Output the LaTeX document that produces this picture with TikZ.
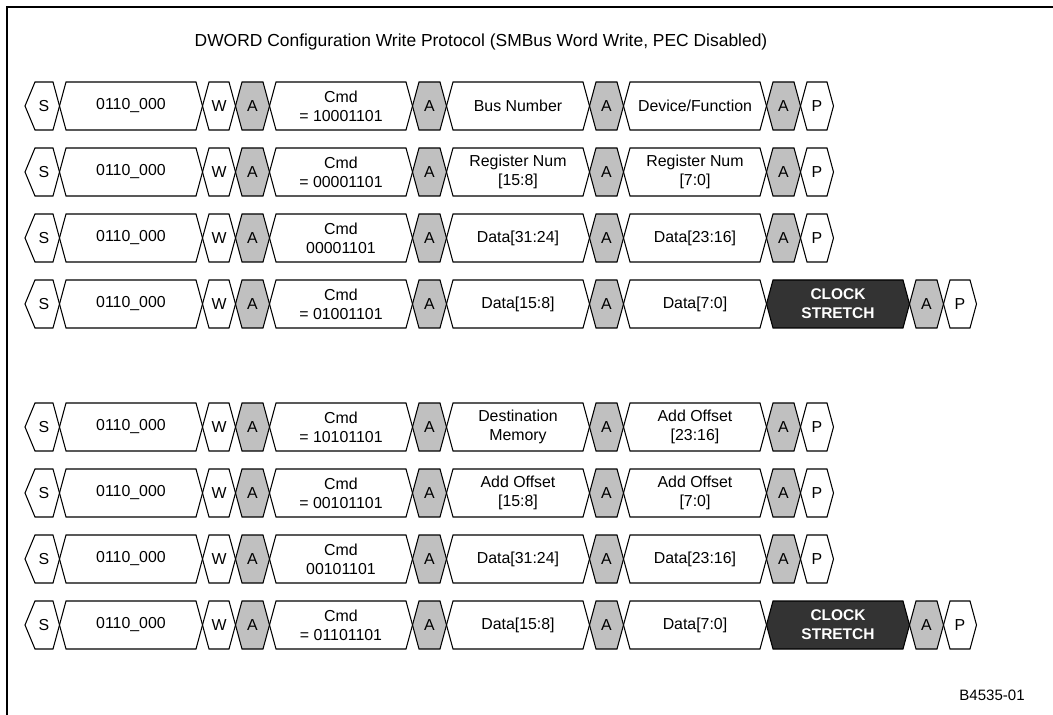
\documentclass[tikz,border=0pt]{standalone}
\usepackage{fontspec}
\setmainfont{Liberation Sans}
\usepackage{xcolor}
\usepackage{tikz}
\definecolor{ackgray}{RGB}{192,192,192}
\definecolor{stretchgray}{RGB}{51,51,51}
\pgfdeclarelayer{background}
\pgfsetlayers{background,main}

\tikzset{
    field/.style={fill=none},
    ack/.style={fill=ackgray},
    stretch/.style={fill=stretchgray},
    outline/.style={draw=black, line width=0.75pt, line join=miter},
    field text/.style={font=\fontsize{11.3}{13.5}\selectfont, align=center, inner sep=0pt},
    ack text/.style={field text},
    stretch text/.style={field text, text=white, font=\fontsize{11}{13.5}\selectfont\bfseries},
}

% one bus field: #1 name, #2 kind, #3 width, #4 text
\newcommand{\seg}[4]{%
    \begin{pgfonlayer}{background}
        \fill[#2] (\segx-\tipl,\rowy) -- (\segx,\rowy-24) -- (\segx+#3,\rowy-24)
            -- (\segx+#3+6.5,\rowy) -- (\segx+#3,\rowy+24) -- (\segx,\rowy+24) -- cycle;
    \end{pgfonlayer}
    \draw[outline] (\segx-\tipl,\rowy) -- (\segx,\rowy-24) -- (\segx+#3,\rowy-24)
        -- (\segx+#3+6.5,\rowy) -- (\segx+#3,\rowy+24) -- (\segx,\rowy+24) -- cycle;
    \node[#2 text] (#1) at (\segx+#3/2,\rowy) {#4};
    \pgfmathsetmacro{\segx}{\segx+#3+13}%
    \def\tipl{6.5}%
}
% start of a row: S, address, W, A
\newcommand{\rowstart}[2]{%
    \def\rowy{#2}\def\segx{35}\def\tipl{10}%
    \seg{#1s}{field}{18}{S}
    \seg{#1addr}{field}{130}{0110\_000}
    \seg{#1w}{field}{20}{W}
    \seg{#1acka}{ack}{21}{A}
}
% end of a row: A, P
\newcommand{\rowend}[1]{%
    \seg{#1ackd}{ack}{21}{A}
    \seg{#1p}{field}{20}{P}
}

\begin{document}
\begin{tikzpicture}[x=0.025cm, y=-0.025cm]
    \useasboundingbox (0,0) rectangle (1053,715);
    \draw[line width=1.5pt] (7,715) -- (7,7) -- (1053,7);

    \node[font=\fontsize{12.4}{15}\selectfont] (title) at (481,42)
        {DWORD Configuration Write Protocol (SMBus Word Write, PEC Disabled)};

    % configuration address
    \rowstart{r1}{106}
    \seg{r1cmd}{field}{130}{Cmd\\= 10001101}
    \seg{r1ackb}{ack}{21}{A}
    \seg{r1lo}{field}{130}{Bus Number}
    \seg{r1ackc}{ack}{21}{A}
    \seg{r1hi}{field}{130}{Device/Function}
    \rowend{r1}

    \rowstart{r2}{172}
    \seg{r2cmd}{field}{130}{Cmd\\= 00001101}
    \seg{r2ackb}{ack}{21}{A}
    \seg{r2lo}{field}{130}{Register Num\\{[15:8]}}
    \seg{r2ackc}{ack}{21}{A}
    \seg{r2hi}{field}{130}{Register Num\\{[7:0]}}
    \rowend{r2}

    \rowstart{r3}{238}
    \seg{r3cmd}{field}{130}{Cmd\\00001101}
    \seg{r3ackb}{ack}{21}{A}
    \seg{r3lo}{field}{130}{Data[31:24]}
    \seg{r3ackc}{ack}{21}{A}
    \seg{r3hi}{field}{130}{Data[23:16]}
    \rowend{r3}

    \rowstart{r4}{304}
    \seg{r4cmd}{field}{130}{Cmd\\= 01001101}
    \seg{r4ackb}{ack}{21}{A}
    \seg{r4lo}{field}{130}{Data[15:8]}
    \seg{r4ackc}{ack}{21}{A}
    \seg{r4hi}{field}{130}{Data[7:0]}
    \seg{r4wait}{stretch}{130}{CLOCK\\STRETCH}
    \rowend{r4}

    % memory address
    \rowstart{r5}{427}
    \seg{r5cmd}{field}{130}{Cmd\\= 10101101}
    \seg{r5ackb}{ack}{21}{A}
    \seg{r5lo}{field}{130}{Destination\\Memory}
    \seg{r5ackc}{ack}{21}{A}
    \seg{r5hi}{field}{130}{Add Offset\\{[23:16]}}
    \rowend{r5}

    \rowstart{r6}{493}
    \seg{r6cmd}{field}{130}{Cmd\\= 00101101}
    \seg{r6ackb}{ack}{21}{A}
    \seg{r6lo}{field}{130}{Add Offset\\{[15:8]}}
    \seg{r6ackc}{ack}{21}{A}
    \seg{r6hi}{field}{130}{Add Offset\\{[7:0]}}
    \rowend{r6}

    \rowstart{r7}{559}
    \seg{r7cmd}{field}{130}{Cmd\\00101101}
    \seg{r7ackb}{ack}{21}{A}
    \seg{r7lo}{field}{130}{Data[31:24]}
    \seg{r7ackc}{ack}{21}{A}
    \seg{r7hi}{field}{130}{Data[23:16]}
    \rowend{r7}

    \rowstart{r8}{625}
    \seg{r8cmd}{field}{130}{Cmd\\= 01101101}
    \seg{r8ackb}{ack}{21}{A}
    \seg{r8lo}{field}{130}{Data[15:8]}
    \seg{r8ackc}{ack}{21}{A}
    \seg{r8hi}{field}{130}{Data[7:0]}
    \seg{r8wait}{stretch}{130}{CLOCK\\STRETCH}
    \rowend{r8}

    \node[font=\fontsize{10.7}{13}\selectfont] (figid) at (992,695) {B4535-01};
\end{tikzpicture}
\end{document}
